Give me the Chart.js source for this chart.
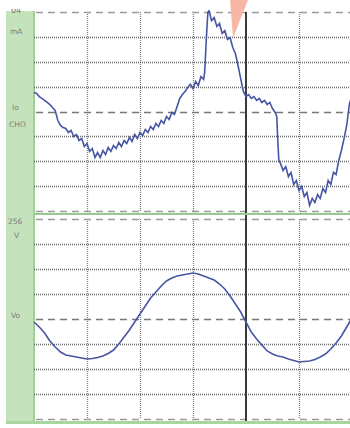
<!DOCTYPE html>
<html>
<head>
<meta charset="utf-8">
<script src="https://cdn.jsdelivr.net/npm/chart.js@4.4.0/dist/chart.umd.min.js"></script>
<style>
  html, body { margin: 0; padding: 0; background: #fff; }
  body { width: 350px; height: 428px; overflow: hidden; position: relative; font-family: "DejaVu Sans", sans-serif; }
  .box { position: absolute; left: 0; width: 352px; }
  #topBox { top: 0; height: 215px; }
  #botBox { top: 215px; height: 213px; }
  .strip { position: absolute; left: 6px; top: 11px; width: 28px; height: 413px; background: #c4e2bb; }
  .edge { position: absolute; left: 33px; top: 11px; width: 2px; height: 413px; background: #9fcf97; }
  .sep { position: absolute; left: 34px; top: 213px; width: 316px; height: 2px; background: #98c98f; }
  .base { position: absolute; left: 6px; top: 421px; width: 344px; height: 3px; background: #a9d6a0; }
  .lbl { position: absolute; font-size: 7.5px; color: #7d7d7d; line-height: 1; }
  #cut { position: absolute; left: 6px; top: 9px; width: 28px; height: 8px; overflow: hidden; }
  #cut span { position: absolute; left: 5px; top: -3px; font-size: 8px; color: #6d6d6d; }
  .marker { position: absolute; left: 230px; top: 0; width: 18px; height: 38px; background: #f7b7a4;
            clip-path: polygon(0 0, 100% 0, 17% 100%); }
</style>
</head>
<body>
<div class="strip"></div>
<div class="edge"></div>
<div id="cut"><span>64</span></div>
<div class="lbl" style="left:10px;top:28px;">mA</div>
<div class="lbl" style="left:12px;top:104px;">Io</div>
<div class="lbl" style="left:9px;top:121px;">CHO</div>
<div class="lbl" style="left:8px;top:218px;">256</div>
<div class="lbl" style="left:14px;top:232px;">V</div>
<div class="lbl" style="left:11px;top:312px;">Vo</div>

<div class="box" id="topBox"><canvas id="ioChart"></canvas></div>
<div class="box" id="botBox"><canvas id="voChart"></canvas></div>
<div class="sep"></div>
<div class="base"></div>
<div class="marker"></div>

<script>
// time axis: 5 ms per division, 6 divisions across
const timeTicks = [5, 10, 15, 20, 25];
const cursorTime = 20;

// Io channel, 16 mA per division
const ioTicks = [-64, -48, -32, -16, 0, 16, 32, 48, 64];
const ioTime = [
  0, 0.25, 0.5, 0.75, 1, 1.25, 1.5, 1.75, 2, 2.25, 2.5, 2.75, 3, 3.25, 3.5, 3.75,
  4, 4.25, 4.5, 4.75, 5, 5.25, 5.5, 5.75, 6, 6.25, 6.5, 6.75, 7, 7.25, 7.5, 7.75,
  8, 8.25, 8.5, 8.75, 9, 9.25, 9.5, 9.75, 10, 10.25, 10.5, 10.75, 11, 11.25, 11.5, 11.75,
  12, 12.25, 12.5, 12.75, 13, 13.25, 13.5, 13.75, 14, 14.25, 14.5, 14.75, 15, 15.25, 15.5, 15.75,
  16, 16.1, 16.25, 16.4, 16.5, 16.75, 17, 17.25, 17.5, 17.75, 18, 18.25, 18.5, 18.75,
  19, 19.25, 19.5, 19.75, 20, 20.25, 20.5, 20.75, 21, 21.25, 21.5, 21.75, 22, 22.25, 22.5, 22.75,
  22.9, 23, 23.1, 23.25, 23.5, 23.75, 24, 24.25, 24.5, 24.75, 25, 25.25, 25.5, 25.75,
  26, 26.25, 26.5, 26.75, 27, 27.25, 27.5, 27.75, 28, 28.25, 28.5, 28.75, 29, 29.25, 29.5, 29.75, 30
];
const ioValues = [
  12.2, 11.6, 9.6, 8.4, 7.1, 5.8, 4.5, 2.6, 0.6, -5.8, -9.0, -10.3, -10.9, -13.5, -12.2, -16.1,
  -14.8, -18.6, -17.4, -22.5, -20.6, -25.7, -23.8, -29.6, -26.4, -29.6, -25.1, -27.6, -23.1, -25.7, -21.9, -23.8,
  -19.9, -22.5, -18.6, -20.6, -16.7, -19.3, -14.8, -17.4, -13.5, -15.4, -11.6, -13.5, -9.6, -11.6, -7.7, -9.6,
  -5.8, -7.7, -3.2, -5.1, -0.6, -1.9, 3.2, 8.4, 10.9, 12.9, 15.4, 17.4, 14.8, 19.3, 16.7, 22.5,
  20.6, 25.1, 45.7, 63.7, 64.9, 58.5, 60.4, 54.7, 56.6, 50.2, 52.1, 46.3, 47.6, 41.2,
  37.3, 29.6, 21.2, 12.9, 9.6, 10.9, 8.4, 9.6, 7.1, 8.4, 5.8, 7.1, 4.5, 5.8, 1.9, -0.6,
  -3.2, -18.6, -31.5, -33.4, -37.9, -35.4, -41.8, -39.2, -46.9, -44.4, -50.8, -48.2, -54.7, -52.1,
  -60.4, -55.9, -58.5, -53.4, -55.9, -49.5, -52.1, -44.4, -46.9, -39.2, -40.5, -31.5, -25.1, -17.4, -9.0, 4.5, 10.3
];

// Vo channel, 64 V per division
const voTicks = [-256, -192, -128, -64, 0, 64, 128, 192, 256];
const voTime = [
  0, 0.5, 1, 1.5, 2, 2.5, 3, 3.5, 4, 4.5, 5, 5.5, 6, 6.5, 7, 7.5, 8, 8.5, 9, 9.5,
  10, 10.5, 11, 11.5, 12, 12.5, 13, 13.5, 14, 14.5, 15, 15.5, 16, 16.5, 17, 17.5, 18, 18.5, 19, 19.5,
  20, 20.5, 21, 21.5, 22, 22.5, 23, 23.5, 24, 24.5, 25, 25.5, 26, 26.5, 27, 27.5, 28, 28.5, 29, 29.5, 30
];
const voValues = [
  -7.7, -20.5, -35.8, -56.3, -71.7, -84.5, -92.2, -94.7, -97.3, -99.8, -102.4, -101.1, -98.6, -94.7, -88.3, -79.4, -64, -46.1, -28.2, -7.7,
  12.8, 33.3, 53.8, 69.1, 84.5, 97.3, 105, 110.1, 112.6, 115.2, 117.8, 115.2, 110.1, 105, 99.8, 89.6, 76.8, 58.9, 38.4, 17.9,
  -7.7, -33.3, -51.2, -66.6, -81.9, -89.6, -94.7, -97.3, -102.4, -106.2, -110.1, -108.8, -107.5, -103.7, -97.3, -89.6, -76.8, -61.4, -43.5, -20.5, 2.6
];

// oscilloscope graticule drawn through the chart scales
const scopeGrid = {
  id: 'scopeGrid',
  beforeDatasetsDraw(chart, args, opts) {
    const { ctx, chartArea: a, scales: { x, y } } = chart;
    ctx.save();
    // vertical divisions
    timeTicks.forEach(t => {
      const px = Math.round(x.getPixelForValue(t)) + 0.5;
      if (t === cursorTime) return;
      ctx.strokeStyle = '#7e7e7e';
      ctx.lineWidth = 1.3;
      ctx.setLineDash([1, 1]);
      ctx.beginPath(); ctx.moveTo(px, a.top); ctx.lineTo(px, a.bottom); ctx.stroke();
    });
    // horizontal divisions
    const n = opts.ticks.length;
    opts.ticks.forEach((v, i) => {
      const py = Math.round(y.getPixelForValue(v)) + 0.5;
      const major = i === 0 || i === n - 1 || v === 0;
      if (major) {
        ctx.strokeStyle = v === 0 ? '#777' : '#9a9a9a';
        ctx.lineWidth = 1.6;
        ctx.setLineDash([7, 5]);
        ctx.lineDashOffset = -2;
      } else {
        ctx.strokeStyle = '#6e6e6e';
        ctx.lineWidth = 1.6;
        ctx.setLineDash([1, 1]);
        ctx.lineDashOffset = 0;
      }
      ctx.beginPath(); ctx.moveTo(a.left, py); ctx.lineTo(a.right, py); ctx.stroke();
    });
    // cursor line
    const cx = Math.round(x.getPixelForValue(cursorTime));
    ctx.setLineDash([]);
    ctx.strokeStyle = '#3a3a3a';
    ctx.lineWidth = 2;
    ctx.beginPath(); ctx.moveTo(cx, a.top - (opts.extendTop || 0)); ctx.lineTo(cx, a.bottom + (opts.extendBottom || 0)); ctx.stroke();
    ctx.restore();
  }
};

function makeScope(id, times, values, ticks, padding, extra) {
  return new Chart(document.getElementById(id), {
    type: 'line',
    data: {
      datasets: [{
        data: times.map((t, i) => ({ x: t, y: values[i] })),
        borderColor: '#4755a4',
        borderWidth: 1.6,
        pointRadius: 0,
        tension: 0,
        clip: 2
      }]
    },
    options: {
      responsive: true,
      maintainAspectRatio: false,
      animation: false,
      layout: { padding },
      plugins: {
        legend: { display: false },
        tooltip: { enabled: false },
        scopeGrid: Object.assign({ ticks }, extra)
      },
      scales: {
        x: { type: 'linear', min: 0, max: 30, display: false },
        y: { min: ticks[0], max: ticks[ticks.length - 1], display: false }
      }
    },
    plugins: [scopeGrid]
  });
}

makeScope('ioChart', ioTime, ioValues, ioTicks, { left: 34, top: 12, right: 0, bottom: 4 }, { extendTop: 0, extendBottom: 4 });
makeScope('voChart', voTime, voValues, voTicks, { left: 34, top: 4, right: 0, bottom: 9 }, { extendTop: 4, extendBottom: 5 });
</script>
</body>
</html>
